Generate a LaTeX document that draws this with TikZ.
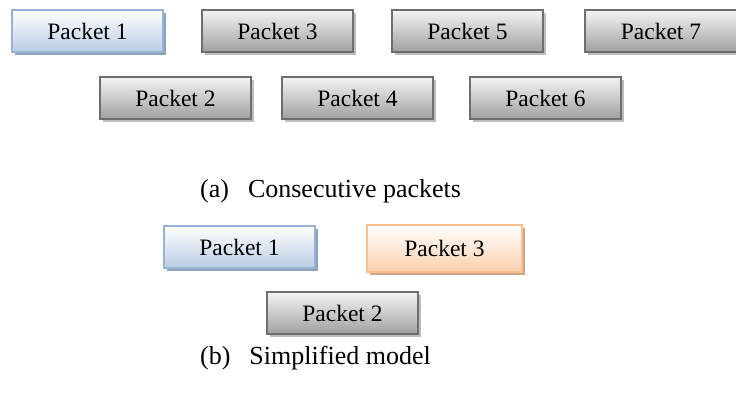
\documentclass[tikz,border=0pt]{standalone}
\usepackage{fontspec}
\setmainfont{Liberation Serif}
\usetikzlibrary{shadows}
\definecolor{bluebd}{HTML}{95B3D7}
\definecolor{bluetop}{HTML}{FFFFFF}
\definecolor{bluebot}{HTML}{B9CDE5}
\definecolor{blueshd}{HTML}{8FA2BA}
\definecolor{graybd}{HTML}{6E6E6E}
\definecolor{graytop}{HTML}{F4F4F4}
\definecolor{graybot}{HTML}{A0A0A0}
\definecolor{grayshd}{HTML}{BDBDBD}
\definecolor{orgbd}{HTML}{FAC090}
\definecolor{orgtop}{HTML}{FFFFFF}
\definecolor{orgbot}{HTML}{FBD0AE}
\definecolor{orgshd}{HTML}{CDA687}
\tikzset{
  pkt/.style={draw, line width=2pt, minimum width=151pt, minimum height=42pt,
    inner sep=0pt, font=\fontsize{23.5}{23.5}\selectfont, anchor=north west},
  pblue/.style={pkt, draw=bluebd, top color=bluetop, bottom color=bluebot,
    drop shadow={shadow xshift=3pt, shadow yshift=-3pt, fill=blueshd, opacity=1}},
  pgray/.style={pkt, draw=graybd, top color=graytop, bottom color=graybot,
    drop shadow={shadow xshift=3pt, shadow yshift=-3pt, fill=grayshd, opacity=1}},
  porg/.style={pkt, draw=orgbd, top color=orgtop, bottom color=orgbot,
    drop shadow={shadow xshift=3pt, shadow yshift=-3pt, fill=orgshd, opacity=1}},
  captext/.style={font=\fontsize{26}{26}\selectfont, anchor=base west, inner sep=0pt}
}
\begin{document}
\begin{tikzpicture}[x=1pt,y=-1pt]
\useasboundingbox (0,0) rectangle (736,397);
% row 1
\node[pblue] (p1) at (11,9) {Packet 1};
\node[pgray] (p3) at (201,9) {Packet 3};
\node[pgray] (p5) at (391,9) {Packet 5};
\node[pgray, minimum width=160pt] (p7) at (584,9) {\hspace*{-8pt}Packet 7};
% row 2
\node[pgray] (p2) at (99,76) {Packet 2};
\node[pgray] (p4) at (281,76) {Packet 4};
\node[pgray] (p6) at (469,76) {Packet 6};
\node[captext] (capa) at (200,197) {(a)\hspace{19pt}Consecutive packets};
% simplified
\node[pblue] (q1) at (163,225) {Packet 1};
\node[porg, minimum width=155pt, minimum height=47pt] (q3) at (366,224) {Packet 3};
\node[pgray] (q2) at (266,291) {Packet 2};
\node[captext] (capb) at (200,364) {(b)\hspace{19pt}Simplified model};
\end{tikzpicture}
\end{document}
